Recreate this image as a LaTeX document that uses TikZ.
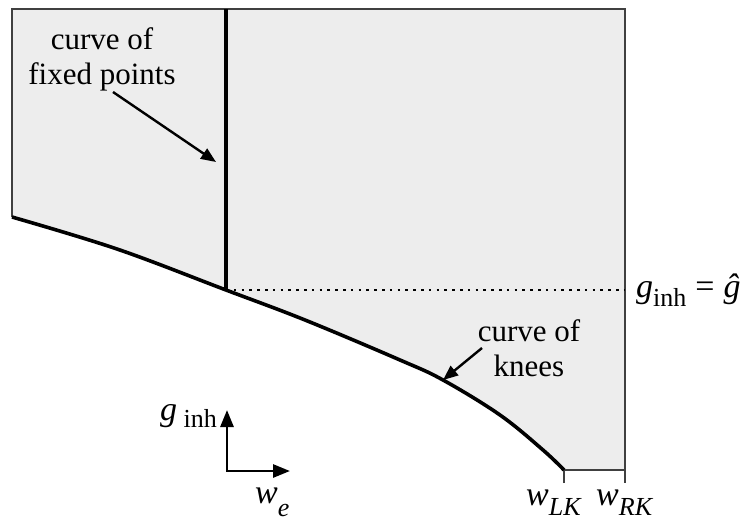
\documentclass[tikz,border=0pt]{standalone}
\usepackage{fontspec}
\setmainfont{Liberation Serif}
\usetikzlibrary{arrows.meta}
\definecolor{regiongray}{HTML}{EDEDED}
\newcommand{\mysub}[2]{\raisebox{-#1}{\fontsize{26}{26}\selectfont #2}}
\newcommand{\mvar}[1]{{\fontsize{34}{34}\selectfont\itshape #1}}
\tikzset{
  region/.style={fill=regiongray, draw=none},
  border/.style={draw=black!75, line width=1.4pt},
  thickline/.style={draw=black, line width=3.6pt},
  dotline/.style={draw=black, line width=2.5pt, dash pattern=on 2.5pt off 5.3pt},
  labelarrow/.style={draw=black, line width=2.4pt, -{Triangle[length=15pt,width=12pt]}},
  axisarrow/.style={draw=black, line width=2.8pt, {Triangle[length=17pt,width=13pt]}-{Triangle[length=17pt,width=13pt]}},
  lbl/.style={inner sep=0pt, font=\fontsize{31}{35}\selectfont},
}
\begin{document}
\begin{tikzpicture}[x=1pt,y=-1pt]
\useasboundingbox (0,0) rectangle (747,523);
% key points
\coordinate (TL) at (12,9);
\coordinate (TR) at (625,9);
\coordinate (BR) at (625,470);
\coordinate (LK) at (564,470);
\coordinate (CL) at (12,217);
\coordinate (FP) at (226,290);
\coordinate (FPtop) at (226,9);
\coordinate (RKt) at (625,483);
\coordinate (LKt) at (564,483);
\coordinate (DotEnd) at (625,290);
% region
\fill[region] (TL) -- (TR) -- (BR) -- (LK) -- plot[smooth, tension=0.6] coordinates {(564,470) (543,450) (500,415) (443,380) (400,360) (305,320) (226,290) (117,249) (12,217)} -- cycle;
% borders
\draw[border] (CL) -- (TL) -- (TR) -- (RKt);
\draw[border] (LKt) -- (LK) -- (BR);
% dotted line
\draw[dotline] (FP) -- (DotEnd);
% fixed points line
\draw[thickline] (FPtop) -- (FP);
% curve of knees
\draw[thickline, line join=round] plot[smooth, tension=0.6] coordinates {(12,217) (117,249) (226,290) (305,320) (400,360) (443,380) (500,415) (543,450) (564,470)};
% labels
\node[lbl, align=center, anchor=north] (fplabel) at (102,27) {curve of\\fixed points};
\coordinate (fpa) at (113,92);
\coordinate (fpb) at (216,162);
\draw[labelarrow] (fpa) -- (fpb);
\node[lbl, align=center, anchor=north] (knlabel) at (529,319) {curve of\\knees};
\coordinate (kna) at (482,348);
\coordinate (knb) at (443,380);
\draw[labelarrow] (kna) -- (knb);
% g_inh = g hat
\node[lbl, anchor=base west] (ghat) at (636,297) {\mvar{g}\mysub{9pt}{inh}\hspace{9pt}{\fontsize{34}{34}\selectfont =}\hspace{9pt}\mvar{ĝ}};
% axes
\coordinate (O) at (227,471);
\coordinate (Ay) at (227,410);
\coordinate (Ax) at (290,471);
\draw[axisarrow] (Ay) -- (O) -- (Ax);
\node[lbl, anchor=base west] (gaxis) at (160,420) {\mvar{g}\mysub{7pt}{ inh}};
\node[lbl, anchor=base west] (waxis) at (255,503) {\mvar{w}\mysub{13pt}{\itshape e}};
\node[lbl, anchor=base west] (wlk) at (526,505) {\mvar{w}\mysub{10pt}{\itshape LK}};
\node[lbl, anchor=base west] (wrk) at (596,505) {\mvar{w}\mysub{10pt}{\itshape RK}};
\end{tikzpicture}
\end{document}
